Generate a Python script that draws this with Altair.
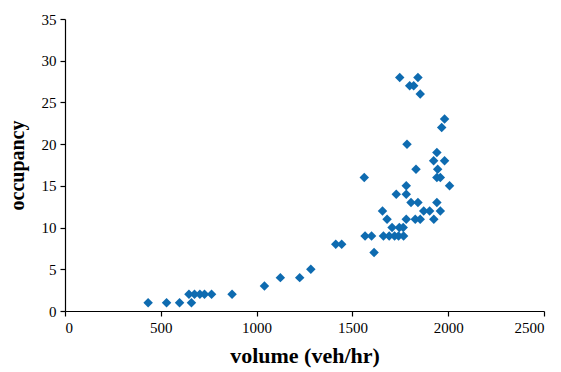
import altair as alt
import pandas as pd

volume = [434, 530, 598, 660, 647, 676, 704, 728, 765, 872,
          1041, 1124, 1225, 1283, 1413, 1444,
          1747, 1842, 1799, 1820, 1854, 1981, 1966,
          1785, 1941, 1924, 1981, 1832, 1945, 1941, 1959, 1562, 2007, 1781,
          1729, 1781, 1806, 1842, 1941, 1657, 1872, 1903, 1959,
          1681, 1781, 1828, 1854, 1925,
          1707, 1745, 1765,
          1566, 1600, 1662, 1692, 1720, 1741, 1767, 1613]
occupancy = [1, 1, 1, 1, 2, 2, 2, 2, 2, 2,
             3, 4, 4, 5, 8, 8,
             28, 28, 27, 27, 26, 23, 22,
             20, 19, 18, 18, 17, 17, 16, 16, 16, 15, 15,
             14, 14, 13, 13, 13, 12, 12, 12, 12,
             11, 11, 11, 11, 11,
             10, 10, 10,
             9, 9, 9, 9, 9, 9, 9, 7]

df = pd.DataFrame({"volume": volume, "occupancy": occupancy})

serif = "Liberation Serif"

chart = alt.Chart(df).mark_point(
    shape="diamond", filled=True, size=90, color="#0E6BB0", opacity=1
).encode(
    x=alt.X("volume:Q", scale=alt.Scale(domain=[0, 2500], nice=False, zero=True),
            axis=alt.Axis(values=[0, 500, 1000, 1500, 2000, 2500], format="d",
                          title="volume (veh/hr)", grid=False, tickSize=5,
                          labelPadding=4, titlePadding=10,
                          labelFont=serif, labelFontSize=15, titleFont=serif,
                          titleFontSize=22, titleFontWeight="bold")),
    y=alt.Y("occupancy:Q", scale=alt.Scale(domain=[0, 35], nice=False),
            axis=alt.Axis(values=[0, 5, 10, 15, 20, 25, 30, 35], format="d",
                          title="occupancy", grid=False, tickSize=5,
                          labelPadding=4, titlePadding=14,
                          labelFont=serif, labelFontSize=15, titleFont=serif,
                          titleFontSize=20, titleFontWeight="bold")),
).properties(
    width=479, height=292,
    autosize=alt.AutoSizeParams(type="none"),
    padding={"left": 65, "top": 19, "right": 17, "bottom": 61},
).configure_view(stroke=None).configure_axis(
    domainColor="#000000", tickColor="#000000", domainWidth=1.2, tickWidth=1.2,
    labelColor="#000000", titleColor="#000000",
)

chart.save("out.html", embed_options={"renderer": "svg", "actions": False})
